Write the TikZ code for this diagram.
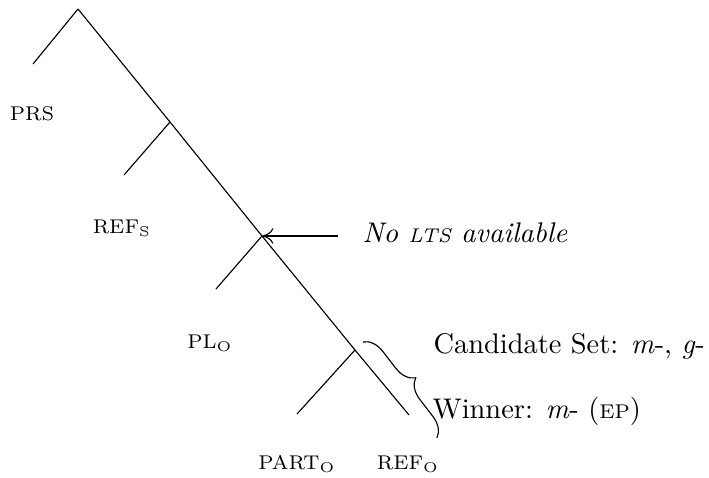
\documentclass[tikz,border=0pt]{standalone}
\usetikzlibrary{decorations.pathreplacing,arrows.meta}
% small capitals drawn as reduced uppercase, to sit at the height of the labels
\newcommand{\lowcaps}[1]{{\fontsize{7}{8.4}\selectfont #1}}
\begin{document}
\begin{tikzpicture}[x=0.352pt,y=-0.352pt,
  font=\fontsize{10}{12}\selectfont,
  branch/.style={line width=0.4pt},
  lbl/.style={inner sep=0pt, anchor=base},
  note/.style={inner sep=0pt, anchor=base west},
  pointer/.style={line width=0.4pt, -{To[length=4pt,width=5.5pt]}},
  curly/.style={line width=0.4pt, decorate, decoration={brace, amplitude=7pt, aspect=0.5}}]
\useasboundingbox (0,0) rectangle (709,477);

% tree skeleton
\coordinate (root) at (78,9);
\coordinate (n1) at (170,122);
\coordinate (n2) at (262,236);
\coordinate (n3) at (355,350);
\coordinate (l0) at (33,64);
\coordinate (l1) at (124,175);
\coordinate (l2) at (216,289);
\coordinate (l3) at (297,414);
\coordinate (l4) at (409,415);

\draw[branch] (root) -- (n1) -- (n2) -- (n3) -- (l4);
\draw[branch] (root) -- (l0);
\draw[branch] (n1) -- (l1);
\draw[branch] (n2) -- (l2);
\draw[branch] (n3) -- (l3);

% leaf labels
\node[lbl] (prs) at (32,120) {\lowcaps{PRS}};
\node[lbl] (refs) at (122,233) {\lowcaps{REF\textsubscript{S}}};
\node[lbl] (plo) at (210,348) {\lowcaps{PL\textsubscript{O}}};
\node[lbl] (parto) at (297,469) {\lowcaps{PART\textsubscript{O}}};
\node[lbl] (refo) at (408,469) {\lowcaps{REF\textsubscript{O}}};

% annotation on the second node
\coordinate (tail) at (338,236);
\node[note] (nolts) at (362,242) {\itshape No \lowcaps{LTS} available};
\draw[pointer] (tail) -- (n2);

% candidate set and winner
\coordinate (b1) at (363,342);
\coordinate (b2) at (437,438);
\draw[curly] (b1) -- (b2);
\node[note] (cand) at (433,353) {Candidate Set: \textit{m}-, \textit{g}-};
\node[note] (win) at (432,418) {Winner: \textit{m}- (\lowcaps{EP})};
\end{tikzpicture}
\end{document}
